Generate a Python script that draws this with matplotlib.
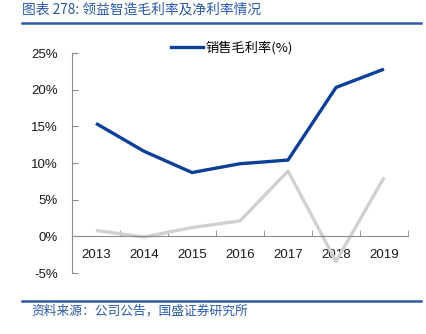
import matplotlib
matplotlib.use('Agg')
import matplotlib.pyplot as plt
from matplotlib.lines import Line2D
from matplotlib.ticker import FuncFormatter, FixedLocator

plt.rcParams['font.family'] = ['Liberation Sans', 'Noto Sans CJK SC', 'DejaVu Sans']

# ── Data ─────────────────────────────────────────────────────────────────────
years = ['2013', '2014', '2015', '2016', '2017', '2018', '2019']
gross_margin = [15.4, 11.6, 8.7, 9.9, 10.4, 20.3, 22.8]   # 销售毛利率 (%)
net_margin = [0.8, -0.1, 1.2, 2.1, 8.9, -3.4, 8.0]        # 销售净利率 (%)
y_ticks = [-5, 0, 5, 10, 15, 20, 25]

title_text = '图表 278: 领益智造毛利率及净利率情况'
source_text = '资料来源：公司公告，国盛证券研究所'
legend_label = '销售毛利率(%)'

BLUE = '#0b3f98'
GREY = '#d0d0d0'
AXIS = '#8c8c8c'
HEAD = '#2a5aa8'
CJK = ['Noto Sans CJK SC', 'DejaVu Sans']

fig = plt.figure(figsize=(4.27, 3.34), dpi=100)
ax = fig.add_axes([72 / 427, 1 - 273 / 334, 336 / 427, 220 / 334])

x = list(range(len(years)))
ax.plot(x, net_margin, color=GREY, linewidth=2.4, solid_capstyle='butt', zorder=2)
ax.plot(x, gross_margin, color=BLUE, linewidth=2.4, solid_capstyle='butt', zorder=3)

ax.set_xlim(-0.5, len(years) - 0.5)
ax.set_ylim(-5, 25)

# spines: left axis + category axis sitting on 0%
for side in ('top', 'right'):
    ax.spines[side].set_visible(False)
ax.spines['left'].set_color(AXIS)
ax.spines['bottom'].set_color(AXIS)
ax.spines['bottom'].set_position(('data', 0))
ax.spines['left'].set_linewidth(0.8)
ax.spines['bottom'].set_linewidth(0.8)

ax.set_yticks(y_ticks)
ax.yaxis.set_major_formatter(FuncFormatter(lambda v, _: f'{v:.0f}%'))
ax.tick_params(axis='y', direction='in', length=4, color=AXIS, pad=10,
               labelsize=9.5, labelcolor='#1a1a1a')

ax.set_xticks(x)
ax.set_xticklabels(years)
ax.xaxis.set_minor_locator(FixedLocator([i - 0.5 for i in range(len(years) + 1)]))
ax.tick_params(axis='x', which='major', length=0, pad=9,
               labelsize=9.5, labelcolor='#1a1a1a')
ax.tick_params(axis='x', which='minor', direction='in', length=4, color=AXIS)

# legend (gross margin only)
handle = Line2D([], [], color=BLUE, linewidth=2.4)
leg = fig.legend([handle], [legend_label], loc='center',
                 bbox_to_anchor=(232 / 427, 1 - 48 / 334), frameon=False,
                 handlelength=2.4, handletextpad=0.2,
                 prop={'family': CJK, 'size': 9.5})

# header / footer
fig.text(22 / 427, 1 - 9 / 334, title_text, color=HEAD, fontsize=9.9, va='center',
         ha='left', family=CJK, style='italic')
fig.add_artist(Line2D([22 / 427, 421 / 427], [1 - 23 / 334] * 2,
                      transform=fig.transFigure, color=HEAD, linewidth=1.8))
fig.add_artist(Line2D([22 / 427, 421 / 427], [1 - 301 / 334] * 2,
                      transform=fig.transFigure, color=HEAD, linewidth=1.8))
fig.text(31 / 427, 1 - 311 / 334, source_text, color=HEAD, fontsize=9.2, va='center',
         ha='left', family=CJK, style='italic')

fig.savefig('out.png', dpi=100)
